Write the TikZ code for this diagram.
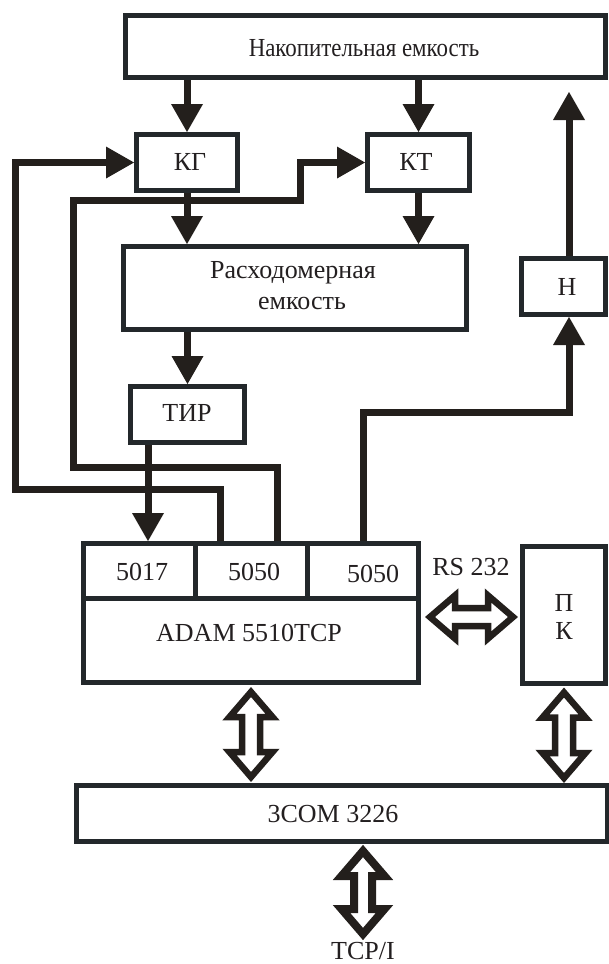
\documentclass[tikz,border=0pt]{standalone}
\usepackage{fontspec}
\usepackage{graphicx}
\setmainfont{Liberation Serif}
\usetikzlibrary{arrows.meta,calc}
\definecolor{boxc}{RGB}{35,40,43}
\definecolor{linec}{RGB}{35,31,28}
\definecolor{txtc}{RGB}{35,31,32}
\def\dh{21.5}\def\ds{9}\def\dL{25}
\newcommand{\vdblarrow}[3][]{%
  \draw[hollow,#1] (#2) -- ++(\dh,\dL) -- ++(-\dh+\ds,0) -- ($(#3)+(\ds,-\dL)$) -- ++(\dh-\ds,0) -- (#3)
   -- ++(-\dh,-\dL) -- ++(\dh-\ds,0) -- ($(#2)+(-\ds,\dL)$) -- ++(-\dh+\ds,0) -- cycle;}
\newcommand{\hdblarrow}[3][]{%
  \draw[hollow,#1] (#2) -- ++(\dL,-\dh) -- ++(0,\dh-\ds) -- ($(#3)+(-\dL,-\ds)$) -- ++(0,-\dh+\ds) -- (#3)
   -- ++(-\dL,\dh) -- ++(0,-\dh+\ds) -- ($(#2)+(\dL,\ds)$) -- ++(0,\dh-\ds) -- cycle;}
\tikzset{
  blk/.style={draw=boxc, line width=5pt, fill=white, inner sep=0pt, rectangle},
  txt/.style={text=txtc, inner sep=0pt, font=\fontsize{26}{30}\selectfont},
  conn/.style={draw=linec, line width=7pt, line join=miter},
  arr/.style={conn, -{Triangle[length=28pt,width=32pt,line width=0pt]}},
  hollow/.style={draw=linec, fill=white, line width=6.5pt, line join=miter},
}
\begin{document}
\begin{tikzpicture}[x=1pt,y=-1pt]
\clip (0,0) rectangle (609,964);
\fill[white] (0,0) rectangle (609,964);
% boxes
\node[blk, minimum width=480, minimum height=62] (top) at (365.5,46.5) {};
\node[blk, minimum width=101, minimum height=56] (kg) at (187,162.5) {};
\node[blk, minimum width=102, minimum height=56] (kt) at (418.5,162.5) {};
\node[blk, minimum width=343, minimum height=83] (ras) at (295,288) {};
\node[blk, minimum width=114, minimum height=56] (tir) at (187.5,414.5) {};
\node[blk, minimum width=84, minimum height=56] (n) at (563.5,286.5) {};
\node[blk, minimum width=335, minimum height=84.5] (adam) at (251,640.25) {};
\node[blk, minimum width=112, minimum height=54.5] (c1) at (139.5,570.75) {};
\node[blk, minimum width=112, minimum height=54.5] (c2) at (251.5,570.75) {};
\node[blk, minimum width=111, minimum height=54.5] (c3) at (363,570.75) {};
\node[blk, minimum width=83, minimum height=137] (pk) at (564,614.5) {};
\node[blk, minimum width=531, minimum height=56] (com) at (342,813.5) {};
% texts
\node[txt] (ttop) at (364,48) {\scalebox{0.88}[1]{Накопительная емкость}};
\node[txt] (tkg) at (190,162) {КГ};
\node[txt] (tkt) at (416,162) {КТ};
\node[txt] (tras1) at (293,273) {Расходомерная};
\node[txt] (tras2) at (302,303) {емкость};
\node[txt] (ttir) at (187,413) {ТИР};
\node[txt] (tn) at (567,287) {Н};
\node[txt] (tc1) at (142,572) {5017};
\node[txt] (tc2) at (254,572) {5050};
\node[txt] (tc3) at (373,574) {5050};
\node[txt] (tadam) at (249,633) {ADAM 5510TCP};
\node[txt] (trs) at (471,567) {RS 232};
\node[txt, align=center, font=\fontsize{26}{28}\selectfont] (tpk) at (564,617) {П\\К};
\node[txt] (tcom) at (333,814) {3COM 3226};
\node[txt, anchor=base] (ttcp) at (363,959) {TCP/I};
% single-line connectors
\draw[arr] (kg.north |- top.south) -- (kg.north);
\draw[arr] (kt.north |- top.south) -- (kt.north);
\draw[arr] (kg.south) -- (kg.south |- ras.north);
\draw[arr] (kt.south) -- (kt.south |- ras.north);
\draw[arr] (tir.north |- ras.south) -- (tir.north);
\draw[arr] (tir.south -| 148,0) -- (c1.north -| 148,0);
\draw[arr] (c2.north -| 220,0) |- (15,489) |- (kg.west);
\draw[arr] (c2.north -| 277,0) |- (73,467) |- (300,200) |- (kt.west);
\draw[arr] (c3.north) |- (569,412) -- (n.south -| 569,0);
\coordinate (ntip) at ($(top.south -| 569,0)+(0,12)$);
\draw[arr] (n.north -| 569,0) -- (ntip);
% hollow double arrows
\coordinate (d1t) at ($(adam.south)+(0,7)$);
\coordinate (d1b) at ($(d1t |- com.north)+(0,-6)$);
\vdblarrow{d1t}{d1b}
\coordinate (d2t) at ($(pk.south)+(0,7)$);
\coordinate (d2b) at ($(d2t |- com.north)+(0,-5)$);
\vdblarrow{d2t}{d2b}
\coordinate (d3t) at ($(ttcp.north |- com.south)+(0,7)$);
\coordinate (d3b) at (363,934);
\vdblarrow[line width=8pt]{d3t}{d3b}
\coordinate (rl) at ($(adam.east |- 0,617)+(9,0)$);
\coordinate (rr) at ($(pk.west |- 0,617)+(-7,0)$);
\hdblarrow{rl}{rr}
\end{tikzpicture}
\end{document}
